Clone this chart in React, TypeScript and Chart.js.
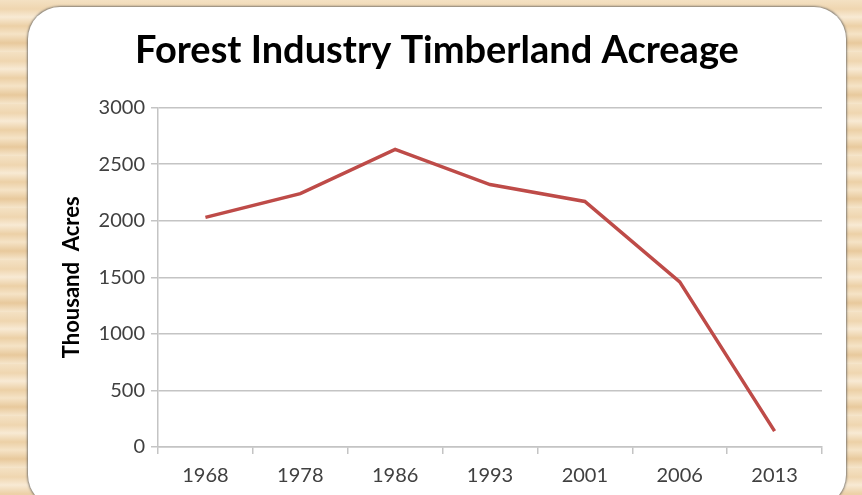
import React, { useEffect, useRef } from "react";
import { Chart, registerables } from "chart.js";

Chart.register(...registerables);

const titleText = "Forest Industry Timberland Acreage";
const yAxisTitle = "Thousand  Acres";
const years = ["1968", "1978", "1986", "1993", "2001", "2006", "2013"];
const acreage = [2030, 2240, 2630, 2320, 2170, 1460, 140];

export default function App() {
  const ref = useRef<HTMLCanvasElement | null>(null);

  useEffect(() => {
    if (!ref.current) return;
    const chart = new Chart(ref.current, {
      type: "line",
      data: {
        labels: years,
        datasets: [
          {
            data: acreage,
            borderColor: "#be4b48",
            borderWidth: 3.5,
            pointRadius: 0,
            tension: 0,
            fill: false,
          },
        ],
      },
      options: {
        responsive: false,
        animation: false,
        layout: { padding: { left: 24, right: 24, top: 0, bottom: 0 } },
        plugins: {
          legend: { display: false },
          tooltip: { enabled: false },
          title: {
            display: true,
            text: titleText,
            color: "#000",
            font: { family: "Lato", size: 38, weight: "bold" },
            padding: { top: 20, bottom: 34 },
          },
        },
        scales: {
          x: {
            offset: true,
            grid: {
              offset: true,
              drawOnChartArea: false,
              drawTicks: true,
              tickLength: 7,
              color: "#c4c4c4",
              lineWidth: 1.5,
            },
            border: { display: true, color: "#c4c4c4", width: 1.5 },
            ticks: {
              color: "#404040",
              font: { family: "Lato", size: 20 },
              padding: 10,
              maxRotation: 0,
            },
            afterFit: (s: any) => {
              s.height = 48;
            },
          },
          y: {
            min: 0,
            max: 3000,
            ticks: {
              stepSize: 500,
              color: "#404040",
              font: { family: "Lato", size: 20 },
              padding: 6,
              callback: (v: any) => String(v),
            },
            grid: { color: "#c4c4c4", lineWidth: 1.5, tickLength: 7 },
            border: { display: true, color: "#c4c4c4", width: 1.5 },
            title: {
              display: true,
              text: yAxisTitle,
              color: "#000",
              font: { family: "Lato", size: 22, weight: "bold" },
              padding: { top: 7, bottom: 0 },
            },
            afterFit: (s: any) => {
              s.width = 106;
            },
          },
        },
      },
    });
    return () => chart.destroy();
  }, []);

  const wood =
    "repeating-linear-gradient(180deg, #f4e1c3 0px, #efd6b0 9px, #f8ead4 17px, #ecd0a6 26px, #f5e3c6 34px, #e8c99c 43px, #f6e6cc 52px)";

  return (
    <div
      style={{
        position: "fixed",
        left: 0,
        top: 0,
        width: 862,
        height: 495,
        overflow: "hidden",
        background: wood,
      }}
    >
      <div
        style={{
          position: "absolute",
          left: 28,
          top: 7,
          width: 818,
          height: 500,
          borderRadius: 32,
          background: "#fff",
          boxShadow: "0 0 2px 1px rgba(90,90,90,0.7)",
        }}
      />
      <div style={{ position: "absolute", left: 28, top: 8, width: 818, height: 487 }}>
        <canvas ref={ref} width={818} height={487} style={{ display: "block" }} />
      </div>
    </div>
  );
}
